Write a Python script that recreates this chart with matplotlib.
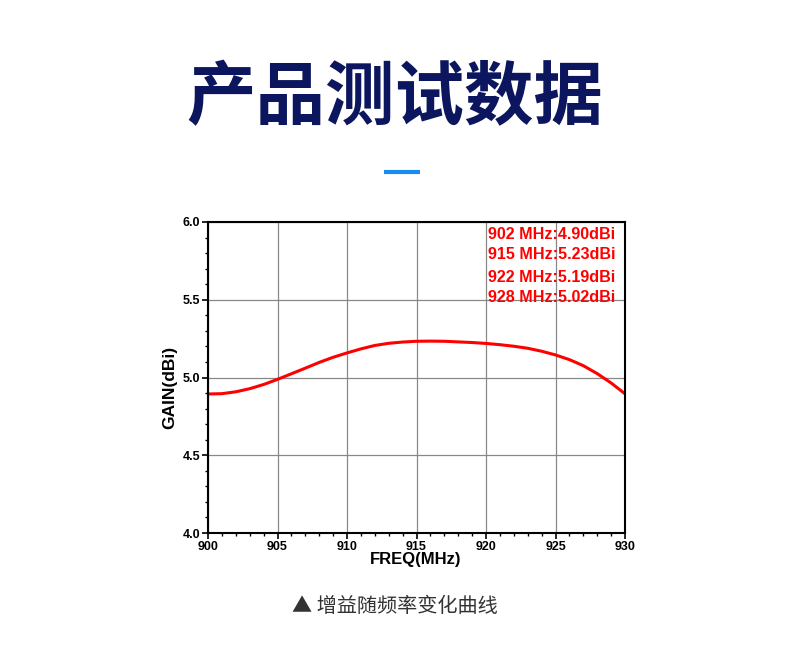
import matplotlib
matplotlib.use("Agg")
import matplotlib.pyplot as plt

freq = [900, 901, 902, 903, 904, 905, 906, 907, 908, 909, 910, 911, 912, 913, 914, 915,
        916, 917, 918, 919, 920, 921, 922, 923, 924, 925, 926, 927, 928, 929, 930]
gain = [4.894, 4.896, 4.908, 4.928, 4.955, 4.988, 5.024, 5.060, 5.097, 5.130, 5.158, 5.184,
        5.206, 5.220, 5.228, 5.233, 5.234, 5.233, 5.229, 5.225, 5.219, 5.211, 5.201,
        5.188, 5.169, 5.145, 5.115, 5.076, 5.025, 4.965, 4.895]
markers = ["902 MHz:4.90dBi", "915 MHz:5.23dBi", "922 MHz:5.19dBi", "928 MHz:5.02dBi"]
xticks = [900, 905, 910, 915, 920, 925, 930]
yticks = [4.0, 4.5, 5.0, 5.5, 6.0]

cjk = ["Noto Sans CJK SC", "DejaVu Sans"]
fig = plt.figure(figsize=(7.9, 6.46), dpi=100)
fig.patch.set_facecolor("white")

fig.text(0.5, 1 - 99 / 646, "产品测试数据", ha="center", va="center",
         fontsize=50, fontweight="bold", color="#0b165e", family=cjk)
# accent line
fig.add_artist(plt.Line2D([384 / 790, 420 / 790], [1 - 172 / 646] * 2,
                          color="#1a8cf0", lw=3, solid_capstyle="butt"))

ax = fig.add_axes([208 / 790, 1 - 533 / 646, 417 / 790, 311 / 646])
ax.plot(freq, gain, color="#ff0000", lw=2.2)
ax.set_xlim(900, 930)
ax.set_ylim(4.0, 6.0)
ax.set_xticks(xticks)
ax.set_yticks(yticks)
ax.set_xticklabels([str(t) for t in xticks], fontsize=9, fontweight="bold", family="Liberation Sans")
ax.set_yticklabels([f"{t:.1f}" for t in yticks], fontsize=9, fontweight="bold", family="Liberation Sans")
ax.xaxis.set_minor_locator(matplotlib.ticker.MultipleLocator(1))
ax.yaxis.set_minor_locator(matplotlib.ticker.MultipleLocator(0.1))
ax.tick_params(which="major", direction="out", length=4, width=1.2, pad=1.5)
ax.tick_params(which="minor", direction="out", length=2, width=1)
ax.grid(True, which="major", color="#888888", lw=0.9)
for s in ax.spines.values():
    s.set_linewidth(1.5)
    s.set_color("black")
ax.set_xlabel("FREQ(MHz)", fontsize=12, fontweight="bold", family="Liberation Sans")
ax.set_ylabel("GAIN(dBi)", fontsize=12.5, fontweight="bold", family="Liberation Sans")
ax.xaxis.set_label_coords(208 / 417, -(552 - 533) / 311)
ax.yaxis.set_label_coords(-(208 - 177) / 417, (533 - 387) / 311)

ypos = [0.961, 0.894, 0.823, 0.756]
for m, yp in zip(markers, ypos):
    ax.text(0.671, yp, m, transform=ax.transAxes, ha="left", va="center",
            color="#ff0000", fontsize=11.6, fontweight="bold", family="Liberation Sans")

fig.text(0.5, 1 - 607 / 646, "▲ 增益随频率变化曲线", ha="center", va="center",
         fontsize=14.5, color="#333333", family=cjk)

fig.savefig("out.png", dpi=100, facecolor="white")
